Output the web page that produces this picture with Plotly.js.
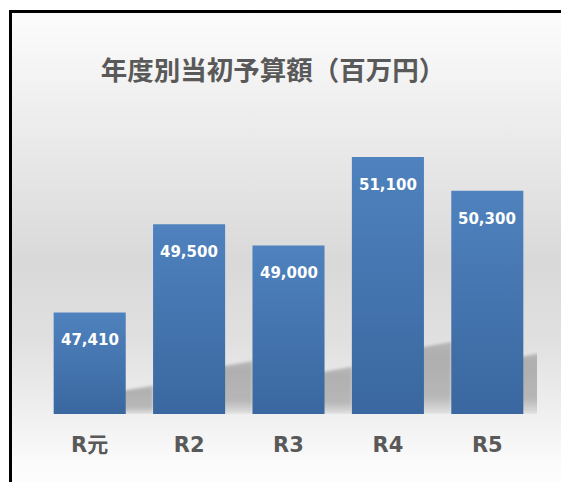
<!DOCTYPE html>
<html>
<head>
<meta charset="utf-8">
<script src="https://cdn.plot.ly/plotly-3.0.1.min.js"></script>
<style>
  html, body { margin:0; padding:0; width:561px; height:482px; overflow:hidden; background:#ffffff; }
  #bg { position:absolute; left:9px; top:10px; width:560px; height:480px;
        border-left:3px solid #000; border-top:3px solid #000;
        background:linear-gradient(to bottom, #fcfcfc 0%, #f4f4f4 12%, #e9e9e9 28%, #d9d9d9 52%, #e0e0e0 68%, #f0f0f0 84%, #fbfbfb 94%, #fefefe 100%); }
  #chart { position:absolute; left:0; top:0; width:561px; height:482px; }
</style>
</head>
<body>
<div id="bg"></div>
<div id="chart"></div>
<script>
// ---- data ----
const categories = ['R元', 'R2', 'R3', 'R4', 'R5'];
const budget = [47410, 49500, 49000, 51100, 50300];
const titleText = '年度別当初予算額（百万円）';
const axisMin = 45000;
const axisMax = 52000;

// ---- styling constants ----
const SHADOW_RATIO = 0.28;
const labelText = budget.map(v => v.toLocaleString('en-US'));

const shadowTrace = {
  type: 'bar',
  x: categories,
  y: budget.map(v => (v - axisMin) * SHADOW_RATIO),
  base: axisMin,
  width: 0.34,
  offset: 0.3,
  marker: { color: 'rgba(140,140,140,0.5)', line: { width: 0 } },
  hoverinfo: 'skip',
  showlegend: false
};

const mainTrace = {
  type: 'bar',
  x: categories,
  y: budget.map(v => v - axisMin),
  base: axisMin,
  width: 0.725,
  marker: { color: '#4677b2', line: { width: 0 } },
  hoverinfo: 'skip',
  showlegend: false
};

const annotations = categories.map((c, i) => ({
  x: c, y: budget[i], xref: 'x', yref: 'y',
  text: labelText[i], showarrow: false,
  yanchor: 'middle', yshift: -28,
  font: { family: 'DejaVu Sans', size: 15, color: '#ffffff', weight: 'bold' }
}));

const layout = {
  width: 561, height: 482,
  margin: { l: 40, r: 24, t: 119, b: 68, pad: 0 },
  paper_bgcolor: 'rgba(0,0,0,0)',
  plot_bgcolor: 'rgba(0,0,0,0)',
  barmode: 'overlay',
  title: {
    text: titleText,
    x: 273 / 561, xanchor: 'center', xref: 'container',
    y: 1 - 71 / 482, yanchor: 'middle', yref: 'container',
    font: { family: 'Noto Sans CJK JP', size: 26.5, color: '#595959', weight: 'bold' }
  },
  xaxis: {
    type: 'category',
    range: [-0.5, categories.length - 0.5],
    showline: false, zeroline: false, showgrid: false,
    ticks: 'outside', ticklen: 12, tickcolor: 'rgba(0,0,0,0)',
    tickfont: { family: 'DejaVu Sans, Noto Sans CJK JP', size: 21, color: '#595959', weight: 'bold' },
    fixedrange: true
  },
  yaxis: {
    range: [axisMin, axisMax],
    visible: false, showgrid: false, zeroline: false, fixedrange: true
  },
  annotations: annotations,
  showlegend: false
};

Plotly.newPlot('chart', [shadowTrace, mainTrace], layout, { staticPlot: true, displayModeBar: false }).then(gd => {
  const svg = gd.querySelector('svg.main-svg');
  const NS = 'http://www.w3.org/2000/svg';
  let defs = svg.querySelector('defs');
  if (!defs) { defs = document.createElementNS(NS, 'defs'); svg.insertBefore(defs, svg.firstChild); }
  function addGrad(id, stops) {
    const g = document.createElementNS(NS, 'linearGradient');
    g.setAttribute('id', id);
    g.setAttribute('x1', '0'); g.setAttribute('y1', '0');
    g.setAttribute('x2', '0'); g.setAttribute('y2', '1');
    stops.forEach(([o, c, op]) => {
      const s = document.createElementNS(NS, 'stop');
      s.setAttribute('offset', o); s.setAttribute('stop-color', c);
      s.setAttribute('stop-opacity', op);
      g.appendChild(s);
    });
    defs.appendChild(g);
  }
  addGrad('barGrad', [['0%', '#4f82be', 1], ['100%', '#3a679f', 1]]);
  addGrad('shGrad', [['0%', '#8a8a8a', 0.5], ['20%', '#8a8a8a', 0.6], ['75%', '#8a8a8a', 0.55], ['100%', '#8a8a8a', 0.15]]);
  const filt = document.createElementNS(NS, 'filter');
  filt.setAttribute('id', 'shBlur');
  filt.setAttribute('x', '-50%'); filt.setAttribute('y', '-50%');
  filt.setAttribute('width', '200%'); filt.setAttribute('height', '200%');
  const blur = document.createElementNS(NS, 'feGaussianBlur');
  blur.setAttribute('stdDeviation', '1.6');
  filt.appendChild(blur);
  defs.appendChild(filt);

  const traces = gd.querySelectorAll('.barlayer .trace');
  if (traces[0]) traces[0].querySelectorAll('path').forEach(p => {
    const b = p.getBBox();
    const x0 = b.x, x1 = b.x + b.width, y0 = b.y, y1 = b.y + b.height;
    const rise = Math.min(6, b.height * 0.2);
    p.setAttribute('d', `M${x0},${y1}L${x0},${y0 + rise}L${x1},${y0}L${x1},${y1}Z`);
    p.style.fill = 'url(#shGrad)';
    p.style.fillOpacity = 1;
    p.setAttribute('filter', 'url(#shBlur)');
  });
  if (traces[1]) traces[1].querySelectorAll('path').forEach(p => { p.style.fill = 'url(#barGrad)'; });
});
</script>
</body>
</html>
